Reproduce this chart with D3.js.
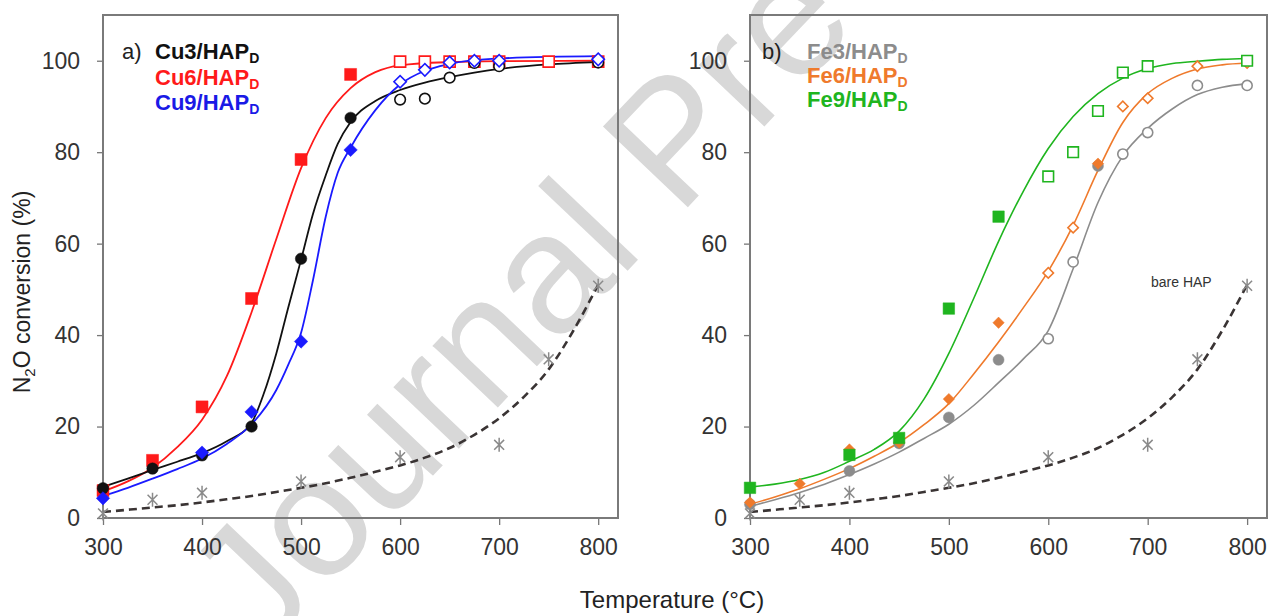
<!DOCTYPE html>
<html><head><meta charset="utf-8">
<script src="https://cdn.jsdelivr.net/npm/d3@7"></script>
<style>
html,body{margin:0;padding:0;background:#fff;}
svg{display:block;font-family:"Liberation Sans",Arial,sans-serif;}
</style></head><body>
<svg id="chart" width="1271" height="616"></svg>
<script>
// axis ticks
const tempTicks = [300, 400, 500, 600, 700, 800];
const convTicks = [0, 20, 40, 60, 80, 100];

// measured conversions, Cu series (solid = 1 for filled marker)
const cu3T = [300, 350, 400, 450, 500, 550, 600, 625, 650, 675, 700, 800];
const cu3V = [6.5, 10.8, 13.7, 20, 56.7, 87.5, 91.5, 91.7, 96.3, 99.5, 98.8, 99.6];
const cu3Solid = [1, 1, 1, 1, 1, 1, 0, 0, 0, 0, 0, 0];
const cu6T = [300, 350, 400, 450, 500, 550, 600, 625, 650, 675, 700, 750, 800];
const cu6V = [6, 12.6, 24.3, 48, 78.4, 97, 99.8, 99.8, 99.8, 99.8, 99.8, 99.8, 99.8];
const cu6Solid = [1, 1, 1, 1, 1, 1, 0, 0, 0, 0, 0, 0, 0];
const cu9T = [300, 400, 450, 500, 550, 600, 625, 650, 675, 700, 800];
const cu9V = [4.3, 14.3, 23.2, 38.6, 80.5, 95.4, 98, 99.6, 100, 100, 100.3];
const cu9Solid = [1, 1, 1, 1, 1, 0, 0, 0, 0, 0, 0];

// measured conversions, Fe series
const fe3T = [300, 400, 450, 500, 550, 600, 625, 650, 675, 700, 750, 800];
const fe3V = [3, 10.3, 16.3, 22, 34.6, 39.2, 56, 77, 79.6, 84.3, 94.6, 94.6];
const fe3Solid = [1, 1, 1, 1, 1, 0, 0, 1, 0, 0, 0, 0];
const fe6T = [300, 350, 400, 450, 500, 550, 600, 625, 650, 675, 700, 750, 800];
const fe6V = [3.4, 7.5, 15, 16.5, 26, 42.7, 53.6, 63.5, 77.5, 90, 91.8, 98.8, 99.5];
const fe6Solid = [1, 1, 1, 1, 1, 1, 0, 0, 1, 0, 0, 0, 0];
const fe9T = [300, 400, 450, 500, 550, 600, 625, 650, 675, 700, 800];
const fe9V = [6.6, 13.8, 17.5, 45.8, 65.9, 74.7, 80, 89, 97.4, 98.8, 100];
const fe9Solid = [1, 1, 1, 1, 1, 0, 0, 0, 0, 0, 0];

// bare support
const bareT = [300, 350, 400, 500, 600, 700, 750, 800];
const bareV = [1, 4, 5.5, 8, 13.3, 16, 34.7, 50.8];

// fitted curves
const cu3FitT = [300, 325, 350, 375, 400, 425, 450, 462, 475, 487, 500, 512, 525, 537, 550, 575, 600, 625, 650, 675, 700, 750, 800];
const cu3FitV = [6.8, 8.6, 10.5, 12.3, 14.2, 16.8, 20.8, 27, 36, 46, 56.5, 66.5, 75, 81.8, 86.6, 91.2, 93.6, 95.2, 96.4, 97.4, 98.2, 99.2, 99.7];
const cu6FitT = [300, 325, 350, 375, 400, 425, 450, 475, 500, 525, 550, 575, 600, 650, 700, 800];
const cu6FitV = [5.8, 8, 11, 15.5, 21.5, 31, 45, 61, 76.5, 87.5, 94, 97.5, 99, 99.7, 99.9, 100];
const cu9FitT = [300, 325, 350, 375, 400, 425, 450, 475, 487, 500, 512, 525, 537, 550, 575, 600, 625, 650, 700, 800];
const cu9FitV = [4.8, 6.6, 8.6, 10.7, 13, 16.2, 20.5, 28, 33.5, 40.5, 52, 66, 75.5, 81, 89.2, 94.8, 97.8, 99.3, 100.5, 101];
const feFitT = [300, 325, 350, 375, 400, 425, 450, 475, 500, 525, 550, 575, 600, 625, 650, 675, 700, 725, 750, 775, 800];
const fe3FitV = [2.5, 4, 5.6, 7.4, 9.5, 11.8, 14.4, 17.4, 20.5, 24.6, 29.6, 34.8, 41, 54.5, 69, 79.2, 85.2, 89.5, 92.6, 94.2, 95];
const fe6FitV = [3, 4.6, 6.4, 8.5, 10.8, 13.5, 16.5, 20.4, 25, 31.5, 38.5, 46, 54, 64, 76, 86.5, 92.8, 96.2, 98.2, 99.1, 99.5];
const fe9FitV = [6.8, 7.4, 8.4, 10, 12.4, 15, 19, 26, 36, 48, 60.5, 71.5, 80.8, 87.8, 92.8, 96.2, 98.3, 99.4, 99.9, 100.3, 100.5];
const bareFitV = [1.3, 1.8, 2.3, 2.8, 3.4, 4.1, 4.8, 5.7, 6.6, 7.6, 8.8, 10.1, 11.5, 13.2, 15.3, 18.2, 21.8, 26.5, 32.5, 41, 51];

const zip = (a, b) => a.map((t, i) => [t, b[i]]);

const svg = d3.select("#chart");

// watermark
svg.append("text")
  .attr("transform", "translate(262,656) rotate(-46.5)")
  .attr("font-size", 170)
  .attr("fill", "#d8d8d8")
  .text("Journal Pre-proof");

// six-armed star used for the bare support
const asterisk = {
  draw(ctx, size) {
    const r = Math.sqrt(size) / 2, d = r * Math.SQRT1_2;
    ctx.moveTo(0, -r); ctx.lineTo(0, r);
    ctx.moveTo(-d, -d); ctx.lineTo(d, d);
    ctx.moveTo(-d, d); ctx.lineTo(d, -d);
  }
};

const Y_TOP = 15, Y_BOT = 518;

function drawPanel(p) {
  const x = d3.scaleLinear().domain([300, 820]).range([p.left, p.right]);
  const y = d3.scaleLinear().domain([0, 110]).range([Y_BOT, Y_TOP]);
  const g = svg.append("g");

  const ya = g.append("g").attr("transform", `translate(${p.left},0)`)
    .call(d3.axisLeft(y).tickValues(convTicks).tickSize(6).tickPadding(17).tickFormat(d3.format("d")));
  const xa = g.append("g").attr("transform", `translate(0,${Y_BOT})`)
    .call(d3.axisBottom(x).tickValues(tempTicks).tickSize(7).tickPadding(14).tickFormat(d3.format("d")));
  [ya, xa].forEach(a => {
    a.select(".domain").remove();
    a.selectAll(".tick line").attr("stroke", "#777").attr("stroke-width", 1.3);
    a.selectAll(".tick text").attr("font-size", 23).attr("fill", "#333")
      .attr("font-family", '"Liberation Sans",Arial,sans-serif');
  });

  g.append("rect")
    .attr("x", p.left).attr("y", Y_TOP)
    .attr("width", p.right - p.left).attr("height", Y_BOT - Y_TOP)
    .attr("fill", "none").attr("stroke", "#7a7a7a").attr("stroke-width", 2);

  const line = d3.line().curve(d3.curveMonotoneX).x(d => x(d[0])).y(d => y(d[1]));

  // bare support fit and points
  g.append("path").datum(zip(feFitT, bareFitV)).attr("d", line)
    .attr("fill", "none").attr("stroke", "#3a3434").attr("stroke-width", 2.6)
    .attr("stroke-dasharray", "8,5");
  g.selectAll(".bare").data(zip(bareT, bareV)).join("path")
    .attr("transform", d => `translate(${x(d[0])},${y(d[1])})`)
    .attr("d", d3.symbol().type(asterisk).size(196))
    .attr("fill", "none").attr("stroke", "#8a8a8a").attr("stroke-width", 1.5);

  p.series.forEach(s => {
    g.append("path").datum(zip(s.fitT, s.fitV)).attr("d", line)
      .attr("fill", "none").attr("stroke", s.color).attr("stroke-width", s.lw);
  });
  p.series.forEach(s => {
    const pts = s.t.map((t, i) => ({ t, v: s.v[i], solid: s.solid[i] }));
    g.selectAll(null).data(pts).join("path")
      .attr("transform", d => `translate(${x(d.t)},${y(d.v)})` + (s.rot ? " rotate(45)" : ""))
      .attr("d", d3.symbol().type(s.shape).size(d => d.solid ? s.size : s.size * 0.85))
      .attr("fill", d => d.solid ? s.color : "#fff")
      .attr("stroke", s.color).attr("stroke-width", d => d.solid ? 0.5 : 1.6);
  });

  // legend
  const lg = g.append("g").attr("font-size", 22);
  lg.append("text").attr("x", p.tagX).attr("y", p.legY[0]).attr("fill", "#222").text(p.tag);
  p.legend.forEach((s, i) => {
    const t = lg.append("text").attr("x", p.legX).attr("y", p.legY[i])
      .attr("fill", s.textColor).attr("font-weight", "bold");
    t.append("tspan").text(s.name);
    t.append("tspan").attr("font-size", 14).attr("dy", 4).text("D");
  });
  return { x, y, g };
}

const cu3 = { name: "Cu3/HAP", t: cu3T, v: cu3V, solid: cu3Solid, fitT: cu3FitT, fitV: cu3FitV,
  color: "#111", textColor: "#111", shape: d3.symbolCircle, size: 104, lw: 1.8 };
const cu6 = { name: "Cu6/HAP", t: cu6T, v: cu6V, solid: cu6Solid, fitT: cu6FitT, fitV: cu6FitV,
  color: "#ff1a1a", textColor: "#ff1a1a", shape: d3.symbolSquare, size: 144, lw: 1.8 };
const cu9 = { name: "Cu9/HAP", t: cu9T, v: cu9V, solid: cu9Solid, fitT: cu9FitT, fitV: cu9FitV,
  color: "#1a1aff", textColor: "#1a1ae6", shape: d3.symbolSquare, rot: true, size: 90, lw: 1.8 };

drawPanel({
  left: 103, right: 618, tag: "a)", tagX: 122, legX: 155, legY: [59, 85, 110],
  series: [cu6, cu3, cu9], legend: [cu3, cu6, cu9]
});

const fe3 = { name: "Fe3/HAP", t: fe3T, v: fe3V, solid: fe3Solid, fitT: feFitT, fitV: fe3FitV,
  color: "#8c8c8c", textColor: "#8c8c8c", shape: d3.symbolCircle, size: 95, lw: 1.6 };
const fe6 = { name: "Fe6/HAP", t: fe6T, v: fe6V, solid: fe6Solid, fitT: feFitT, fitV: fe6FitV,
  color: "#ef7a2c", textColor: "#ef7a2c", shape: d3.symbolSquare, rot: true, size: 64, lw: 1.6 };
const fe9 = { name: "Fe9/HAP", t: fe9T, v: fe9V, solid: fe9Solid, fitT: feFitT, fitV: fe9FitV,
  color: "#1fb51f", textColor: "#1fb51f", shape: d3.symbolSquare, size: 132, lw: 1.6 };

const right = drawPanel({
  left: 750, right: 1267, tag: "b)", tagX: 762, legX: 807, legY: [59, 83, 107],
  series: [fe3, fe6, fe9], legend: [fe3, fe6, fe9]
});

right.g.append("text").attr("x", 1151).attr("y", 287).attr("font-size", 14)
  .attr("fill", "#333").text("bare HAP");

// axis titles
svg.append("text").attr("transform", "translate(30,292) rotate(-90)")
  .attr("text-anchor", "middle").attr("font-size", 23).attr("fill", "#222")
  .call(t => {
    t.append("tspan").text("N");
    t.append("tspan").attr("font-size", 15).attr("dy", 5).text("2");
    t.append("tspan").attr("dy", -5).text("O conversion  (%)");
  });
svg.append("text").attr("x", 672).attr("y", 608).attr("text-anchor", "middle")
  .attr("font-size", 24).attr("fill", "#222").text("Temperature (°C)");
</script>
</body></html>
